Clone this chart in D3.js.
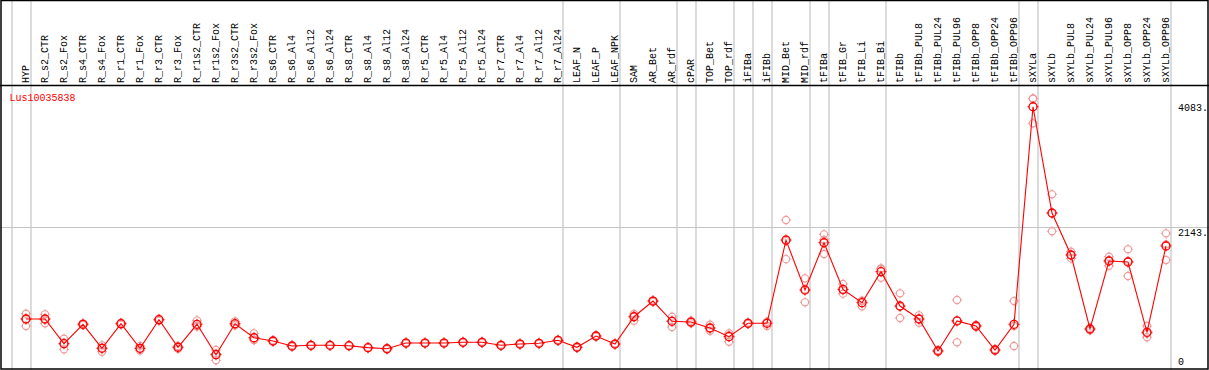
<!DOCTYPE html>
<html>
<head>
<meta charset="utf-8">
<script src="https://cdn.jsdelivr.net/npm/d3@7"></script>
<style>
  body { margin: 0; background: #fff; }
  svg { display: block; }
</style>
</head>
<body>
<div id="chart"></div>
<script>
// sample labels (column headers)
let samples = ["HYP", "R_s2_CTR", "R_s2_Fox", "R_s4_CTR", "R_s4_Fox", "R_r1_CTR", "R_r1_Fox", "R_r3_CTR", "R_r3_Fox",
    "R_r1s2_CTR", "R_r1s2_Fox", "R_r3s2_CTR", "R_r3s2_Fox", "R_s6_CTR", "R_s6_Al4", "R_s6_Al12", "R_s6_Al24",
    "R_s8_CTR", "R_s8_Al4", "R_s8_Al12", "R_s8_Al24", "R_r5_CTR", "R_r5_Al4", "R_r5_Al12", "R_r5_Al24",
    "R_r7_CTR", "R_r7_Al4", "R_r7_Al12", "R_r7_Al24", "LEAF_N", "LEAF_P", "LEAF_NPK", "SAM", "AR_Bet", "AR_rdf",
    "cPAR", "TOP_Bet", "TOP_rdf", "iFIBa", "iFIBb", "MID_Bet", "MID_rdf", "tFIBa", "tFIB_Gr", "tFIB_Li", "tFIB_Bi",
    "tFIBb", "tFIBb_PUL8", "tFIBb_PUL24", "tFIBb_PUL96", "tFIBb_OPP8", "tFIBb_OPP24", "tFIBb_OPP96",
    "sXYLa", "sXYLb", "sXYLb_PUL8", "sXYLb_PUL24", "sXYLb_PUL96", "sXYLb_OPP8", "sXYLb_OPP24", "sXYLb_OPP96"];

// mean expression per sample
let means = [755, 755, 382, 675, 312, 684, 312, 744, 328, 675, 216, 684, 472, 423, 347, 358, 358, 352, 322, 306,
    392, 392, 392, 403, 403, 358, 377, 388, 433, 328, 498, 377, 789, 1026, 720, 709, 619, 488, 690, 690,
    1947, 1192, 1906, 1202, 1001, 1469, 951, 755, 272, 725, 649, 287, 675, 3959, 2355, 1721, 604, 1630, 1615, 554, 1857];

// replicate values per sample
let reps = [
    [835, 755, 649], [826, 745, 690], [457, 297, 390], [690, 665, 675], [358, 260, 318], [700, 670, 684],
    [350, 280, 306], [760, 730, 744], [345, 305, 335], [735, 640, 650], [287, 131, 230], [720, 660, 672],
    [539, 438, 440], [430, 415, 423], [355, 340, 347], [365, 350, 358], [362, 352, 358], [360, 345, 352],
    [330, 315, 322], [312, 298, 306], [400, 385, 392], [398, 386, 392], [400, 384, 392], [410, 396, 403],
    [411, 395, 403], [366, 350, 358], [385, 370, 377], [395, 380, 388], [440, 425, 433], [336, 320, 328],
    [506, 490, 498], [385, 370, 377], [830, 729, 800], [1035, 1015, 1026], [789, 634, 730], [730, 690, 709],
    [669, 576, 615], [539, 412, 510], [700, 680, 690], [700, 650, 715], [2249, 1658, 1930], [1369, 1007, 1200],
    [2033, 1736, 1950], [1283, 1137, 1190], [1026, 946, 1030], [1510, 1378, 1520], [1143, 770, 940],
    [811, 699, 755], [285, 260, 272], [1042, 403, 730], [665, 635, 649], [300, 275, 287], [1026, 347, 650],
    [4083, 3709, 4080], [2637, 2079, 2350], [1771, 1669, 1720], [620, 585, 605], [1695, 1559, 1640],
    [1807, 1404, 1630], [649, 479, 535], [2048, 1645, 1880]];

// group boundaries: gridline drawn after these sample indices
let groupEnds = [-1, 0, 28, 31, 34, 35, 37, 38, 39, 41, 42, 45, 52, 53, 60];

let geneId = "Lus10035838";
let maxVal = 4083;
let midVal = 2143;

const W = 1209, H = 370;
const font = "'Liberation Mono', 'DejaVu Sans Mono', monospace";

svg = d3.select('#chart')
    .append('svg')
    .attr("width", W)
    .attr("height", H);

let x = d3.scalePoint()
    .domain(samples)
    .range([26, 1166]);
let step = x.step();

let y = d3.scaleLinear()
    .domain([0, maxVal * 1.05])
    .range([369, 85]);

// gridlines
svg.selectAll(".vgrid")
    .data(groupEnds)
    .enter().append("line")
    .attr("x1", d => 26 + step * d + 5)
    .attr("x2", d => 26 + step * d + 5)
    .attr("y1", 0)
    .attr("y2", H)
    .style("stroke", "#c4c4c4")
    .style("stroke-width", 1.2);

svg.append("line")
    .attr("x1", 0).attr("x2", W)
    .attr("y1", Math.round(y(maxVal * 1.05 / 2)) + 0.5)
    .attr("y2", Math.round(y(maxVal * 1.05 / 2)) + 0.5)
    .style("stroke", "#c4c4c4")
    .style("stroke-width", 1.2);

// borders
svg.append("rect")
    .attr("x", 1).attr("y", 0.5)
    .attr("width", W - 2).attr("height", H - 1.5)
    .style("fill", "none")
    .style("stroke", "#000")
    .style("stroke-width", 1.5);

svg.append("line")
    .attr("x1", 0).attr("x2", W)
    .attr("y1", 85.5).attr("y2", 85.5)
    .style("stroke", "#000")
    .style("stroke-width", 1.5);

// header labels
svg.selectAll(".lab")
    .data(samples)
    .enter().append("text")
    .text(d => d)
    .attr("transform", d => `translate(${x(d) + 2.5} 83) rotate(-90)`)
    .attr("font-size", 10)
    .attr("font-family", font)
    .style("fill", "#000");

// gene id
svg.append("text")
    .text(geneId)
    .attr("x", 9.5)
    .attr("y", 100.5)
    .attr("font-size", 10)
    .attr("font-family", font)
    .style("fill", "#ff0000");

// axis labels on the right
[[maxVal + ".", 110.5], [midVal + ".", 235.5], ["0", 364.5]].forEach(d => {
    svg.append("text")
        .text(d[0])
        .attr("x", 1178)
        .attr("y", d[1])
        .attr("font-size", 10)
        .attr("font-family", font)
        .style("fill", "#000");
});

// marker with little ticks
function marker(g, cx, cy, r, color, sw) {
    g.append("circle")
        .attr("cx", cx).attr("cy", cy).attr("r", r)
        .style("fill", "none")
        .style("stroke", color)
        .style("stroke-width", sw);
    g.append("path")
        .attr("d", `M${cx},${cy - r - 1.5}V${cy - r + 0.5}M${cx},${cy + r - 0.5}V${cy + r + 1.5}` +
            `M${cx - r - 1.5},${cy}H${cx - r + 0.5}M${cx + r - 0.5},${cy}H${cx + r + 1.5}`)
        .style("stroke", color)
        .style("stroke-width", 1);
}

// replicates
let repG = svg.append("g");
samples.forEach((s, i) => {
    reps[i].forEach(v => marker(repG, x(s), y(v), 3.6, "#f09a9a", 1.1));
});

// mean line
let line = d3.line()
    .x((d, i) => x(samples[i]))
    .y(d => y(d));

svg.append("path")
    .datum(means)
    .attr("d", line)
    .style("fill", "none")
    .style("stroke", "#ff0000")
    .style("stroke-width", 1.1);

// means
let meanG = svg.append("g");
samples.forEach((s, i) => marker(meanG, x(s), y(means[i]), 4, "#ff0000", 1.3));
</script>
</body>
</html>
